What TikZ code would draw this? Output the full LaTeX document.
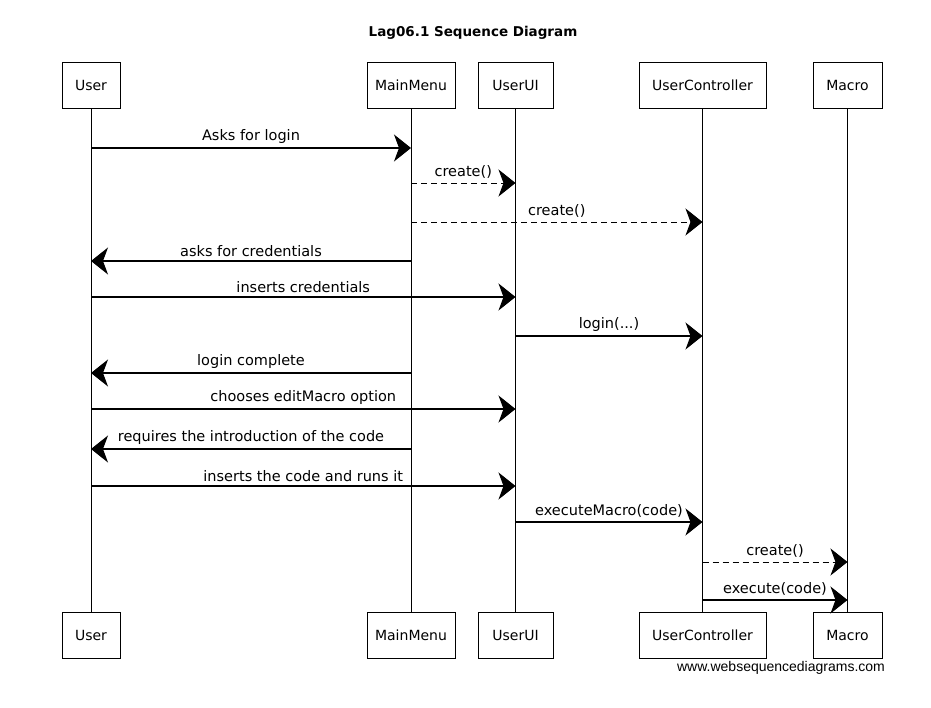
\documentclass[tikz,border=0pt]{standalone}
\usepackage{fontspec}
\setmainfont{DejaVu Sans}
\newfontfamily\footfont{Liberation Sans}
\usetikzlibrary{arrows.meta}
\begin{document}
\begin{tikzpicture}[x=1pt,y=-1pt,
  actor/.style={draw, line width=0.8pt, minimum height=46pt, inner sep=0pt, font=\fontsize{14}{16}\selectfont},
  life/.style={line width=0.7pt},
  msg/.style={line width=1.1pt, -{Stealth[length=17pt,width=27pt,inset=5pt]}},
  reply/.style={msg, line width=0.9pt, dash pattern=on 6pt off 4pt},
  lbl/.style={font=\fontsize{14.5}{16}\selectfont, above=3pt, midway, inner sep=1pt}]
\useasboundingbox (0,0) rectangle (931,708);
\fill[white] (0,0) rectangle (931,708);

\node[font=\bfseries\fontsize{13.5}{16}\selectfont] (title) at (473,33) {Lag06.1 Sequence Diagram};

% top boxes
\node[actor, minimum width=58pt]  (uT) at (91,85)    {User};
\node[actor, minimum width=88pt]  (mT) at (411,85)   {MainMenu};
\node[actor, minimum width=75pt]  (iT) at (515.5,85) {UserUI};
\node[actor, minimum width=127pt] (cT) at (702.5,85) {UserController};
\node[actor, minimum width=69pt]  (aT) at (847.5,85) {Macro};
% bottom boxes
\node[actor, minimum width=58pt]  (uB) at (91,635)    {User};
\node[actor, minimum width=88pt]  (mB) at (411,635)   {MainMenu};
\node[actor, minimum width=75pt]  (iB) at (515.5,635) {UserUI};
\node[actor, minimum width=127pt] (cB) at (702.5,635) {UserController};
\node[actor, minimum width=69pt]  (aB) at (847.5,635) {Macro};

% lifelines
\draw[life] (uT) -- (uB);
\draw[life] (mT) -- (mB);
\draw[life] (iT) -- (iB);
\draw[life] (cT) -- (cB);
\draw[life] (aT) -- (aB);

% messages
\draw[msg]   (uT |- 0,148) -- (mT |- 0,148) node[lbl] {Asks for login};
\draw[reply] (mT |- 0,183) -- (iT |- 0,183) node[lbl] {create()};
\draw[reply] (mT |- 0,222) -- (cT |- 0,222) node[lbl] {create()};
\draw[msg]   (mT |- 0,261) -- (uT |- 0,261) node[lbl] {asks for credentials};
\draw[msg]   (uT |- 0,297) -- (iT |- 0,297) node[lbl] {inserts credentials};
\draw[msg]   (iT |- 0,336) -- (cT |- 0,336) node[lbl] {login(...)};
\draw[msg]   (mT |- 0,373) -- (uT |- 0,373) node[lbl] {login complete};
\draw[msg]   (uT |- 0,409) -- (iT |- 0,409) node[lbl] {chooses editMacro option};
\draw[msg]   (mT |- 0,449) -- (uT |- 0,449) node[lbl] {requires the introduction of the code};
\draw[msg]   (uT |- 0,486) -- (iT |- 0,486) node[lbl] {inserts the code and runs it};
\draw[msg]   (iT |- 0,522) -- (cT |- 0,522) node[lbl] {executeMacro(code)};
\draw[reply] (cT |- 0,562) -- (aT |- 0,562) node[lbl] {create()};
\draw[msg]   (cT |- 0,600) -- (aT |- 0,600) node[lbl] {execute(code)};

\node[font=\footfont\fontsize{14}{16}\selectfont] (foot) at (781,668) {www.websequencediagrams.com};
\end{tikzpicture}
\end{document}
